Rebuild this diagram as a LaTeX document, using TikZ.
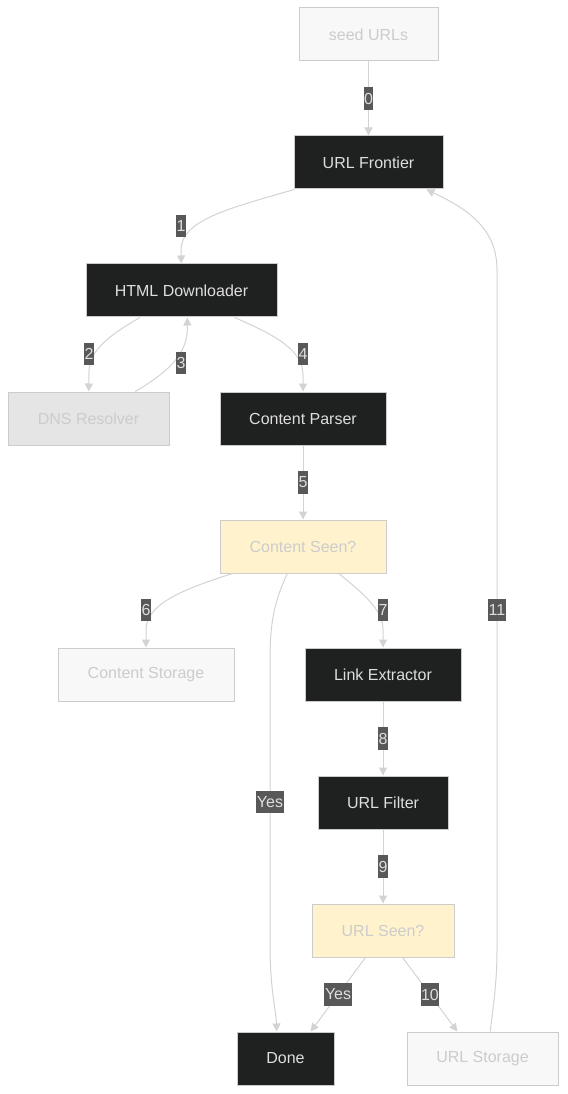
\documentclass[tikz,border=0pt]{standalone}
\usepackage{fontspec}
\setmainfont{Liberation Sans}
\usetikzlibrary{arrows.meta}
\definecolor{boxdark}{HTML}{1F2020}
\definecolor{boxlight}{HTML}{F8F8F8}
\definecolor{boxgrey}{HTML}{E5E5E5}
\definecolor{boxseen}{HTML}{FFF2CC}
\definecolor{rim}{HTML}{CCCCCC}
\definecolor{wire}{HTML}{D3D3D3}
\definecolor{tagbg}{HTML}{585858}
\tikzset{
	box/.style={rectangle, draw=rim, line width=0.75pt, minimum height=39.75pt, inner sep=0pt},
	darkbox/.style={box, fill=boxdark, text=black!13},
	lightbox/.style={box, fill=boxlight, text=rim},
	dnsbox/.style={box, fill=boxgrey, text=rim},
	seenbox/.style={box, fill=boxseen, text=rim},
	flow/.style={draw=wire, line width=0.75pt, -{Triangle[width=6pt,length=6pt]}},
	lbl/.style={fill=tagbg, text=black!13, inner xsep=0.4pt, inner ysep=0pt, minimum height=17pt}
}

\begin{document}
\begin{tikzpicture}[x=0.75pt, y=0.75pt, font=\fontsize{12}{14}\selectfont]
			%%%%% START %%%%%
			\useasboundingbox (0,0) rectangle (567,-1094);
			
			\node[lightbox, minimum width=104.25pt] (seed) at (368.5,-34.5) {seed URLs};
			\node[darkbox, minimum width=111.75pt] (fr) at (368.5,-162.5) {URL Frontier};
			\node[darkbox, minimum width=143.25pt] (dl) at (181.5,-290.5) {HTML Downloader};
			\node[dnsbox, minimum width=120.75pt] (dns) at (88.5,-418.5) {DNS Resolver};
			\node[darkbox, minimum width=124.5pt] (cp) at (303,-418.5) {Content Parser};
			\node[seenbox, minimum width=124.5pt] (cs) at (303,-546.5) {Content Seen?};
			\node[lightbox, minimum width=132pt] (cst) at (146,-674.5) {Content Storage};
			\node[darkbox, minimum width=117pt] (le) at (383,-674.5) {Link Extractor};
			\node[darkbox, minimum width=97.5pt] (uf) at (383,-802.5) {URL Filter};
			\node[seenbox, minimum width=106.5pt] (us) at (383,-930.5) {URL Seen?};
			\node[darkbox, minimum width=72.75pt] (done) at (285.5,-1058.5) {Done};
			\node[lightbox, minimum width=113.25pt] (ust) at (482.5,-1058.5) {URL Storage};
			
			\draw[flow] (seed) -- node[lbl] {0} (fr);
			\draw[flow] (fr.200) .. controls (230,-208) and (181,-220) .. (181,-250) -- (dl) node[lbl] at (181,-226) {1};
			\draw[flow] (dl.213) .. controls (110,-335) and (89,-350) .. (89,-372) -- (dns) node[lbl] at (89,-354) {2};
			\draw[flow] (dns.30) .. controls (175,-368) and (188,-350) .. (dl.282) node[lbl] at (181,-363) {3};
			\draw[flow] (dl.333) .. controls (275,-335) and (303,-350) .. (303,-375) -- (cp) node[lbl] at (303,-354) {4};
			\draw[flow] (cp) -- node[lbl] {5} (cs);
			\draw[flow] (cs.201) .. controls (180,-590) and (146,-605) .. (146,-630) -- (cst) node[lbl] at (146,-610) {6};
			\draw[flow] (cs.323) .. controls (365,-595) and (383,-610) .. (383,-630) -- (le) node[lbl] at (383,-610) {7};
			\draw[flow] (cs.240) .. controls (275,-600) and (270,-620) .. (270,-660) -- node[lbl] {Yes} (270,-944) .. controls (270,-990) and (276,-1010) .. (done.108);
			\draw[flow] (le) -- node[lbl] {8} (uf);
			\draw[flow] (uf) -- node[lbl] {9} (us);
			\draw[flow] (us.237) -- node[lbl] {Yes} (done.47);
			\draw[flow] (us.306) -- node[lbl] {10} (ust.133);
			\draw[flow] (ust.74) .. controls (494,-1000) and (497,-980) .. (497,-950) -- node[lbl] {11} (497,-270) .. controls (497,-230) and (470,-210) .. (fr.335);
			
			%%%%% END %%%%%
\end{tikzpicture}
\end{document}
